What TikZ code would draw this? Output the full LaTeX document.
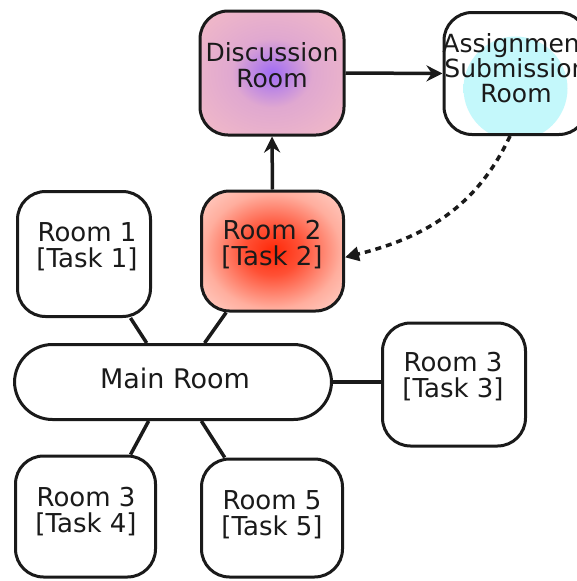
\documentclass[tikz,border=0pt]{standalone}
\usepackage{fontspec}
\setmainfont{DejaVu Sans}
\usetikzlibrary{arrows.meta}

\definecolor{discout}{HTML}{F0B8C8}
\definecolor{discmid}{HTML}{E0A8D0}
\definecolor{discin}{HTML}{A06CF4}
\definecolor{taskout}{HTML}{FFE0DA}
\definecolor{taskmid}{HTML}{FFAE9E}
\definecolor{taskin}{HTML}{FF2808}
\definecolor{blobcyan}{HTML}{C4F8FB}
\definecolor{ink}{HTML}{1A1A1A}

% soft cyan disc behind the submission room label
\pgfdeclareradialshading{cyanblob}{\pgfpoint{0bp}{0bp}}{%
  color(0bp)=(blobcyan); color(30bp)=(blobcyan);
  color(48bp)=(white); color(50bp)=(white)}
% purple glow fading into pink
\pgfdeclareradialshading{discglow}{\pgfpoint{0bp}{0bp}}{%
  color(0bp)=(discin); color(14bp)=(discmid);
  color(32bp)=(discout); color(50bp)=(discout!80!white)}
% red glow fading into pale salmon
\pgfdeclareradialshading{taskglow}{\pgfpoint{0bp}{0bp}}{%
  color(0bp)=(taskin); color(10bp)=(taskin!70!taskmid);
  color(24bp)=(taskmid); color(40bp)=(taskout); color(50bp)=(taskout)}

\tikzset{
  roombox/.style={draw=ink, line width=3pt, rounded corners=28pt,
    fill=white, inner sep=0pt},
  roomtext/.style={align=center, inner sep=0pt, text=ink,
    font=\fontsize{26}{26}\selectfont},
  link/.style={draw=ink, line width=3.5pt},
  flow/.style={draw=ink, line width=3.5pt,
    -{Stealth[length=16pt,width=16pt]}},
  backflow/.style={draw=ink, line width=3.5pt,
    dash pattern=on 6pt off 5pt,
    -{Triangle[length=14pt,width=14pt]}},
}

\begin{document}
\begin{tikzpicture}[x=1pt, y=-1pt]
  \useasboundingbox (0,0) rectangle (576,581);

  % boxes
  \node[roombox, minimum width=144pt, minimum height=124pt,
        shade, shading=discglow] (disc) at (272,73) {};
  \node[roombox, minimum width=143pt, minimum height=122pt,
        path picture={\shade[shading=cyanblob]
          ([xshift=0pt, yshift=-15pt]path picture bounding box.center) circle (52pt);}]
        (asg) at (515.5,73.5) {};
  \node[roombox, minimum width=133pt, minimum height=125pt] (r1) at (84,254) {};
  \node[roombox, minimum width=142pt, minimum height=120pt,
        shade, shading=taskglow] (r2) at (272.5,251) {};
  \node[roombox, rounded corners=38pt, minimum width=317pt, minimum height=75pt]
        (main) at (173,382) {};
  \node[roombox, minimum width=143pt, minimum height=123pt] (r3) at (454,384.5) {};
  \node[roombox, minimum width=140pt, minimum height=121pt] (r4) at (85.5,516.5) {};
  \node[roombox, minimum width=141pt, minimum height=118pt] (r5) at (272,518) {};

  % labels
  \node[roomtext, font=\fontsize{25}{26}\selectfont] (disct) at (272,65.5) {Discussion\\Room};
  \node[roomtext, font=\fontsize{25}{25}\selectfont] (asgt) at (516,68) {Assignment\\Submission\\Room};
  \node[roomtext] (r1t) at (87,247) {Room 1\\{[Task 1]}};
  \node[roomtext] (r2t) at (272,245) {Room 2\\{[Task 2]}};
  \node[roomtext, font=\fontsize{27}{27}\selectfont] (maint) at (175,378) {Main Room};
  \node[roomtext] (r3t) at (453,376.5) {Room 3\\{[Task 3]}};
  \node[roomtext] (r4t) at (86,512) {Room 3\\{[Task 4]}};
  \node[roomtext] (r5t) at (272,514.5) {Room 5\\{[Task 5]}};

  % connectors between rooms
  \draw[link] (r1.-54.3) -- (main.124.4);
  \draw[link] (r2.-127.5) -- (main.51.7);
  \draw[link] (main.-122.7) -- (r4.54.1);
  \draw[link] (main.-54.3) -- (r5.128);
  \draw[link] (main.east) -- (main.east -| r3.west);

  % task flow
  \draw[flow] (r2.north) -- (disc.south);
  \draw[flow] (disc.east) -- (asg.west);
  \draw[backflow] (asg.-95) to[out=-115, in=14] (r2.-5);
\end{tikzpicture}
\end{document}
